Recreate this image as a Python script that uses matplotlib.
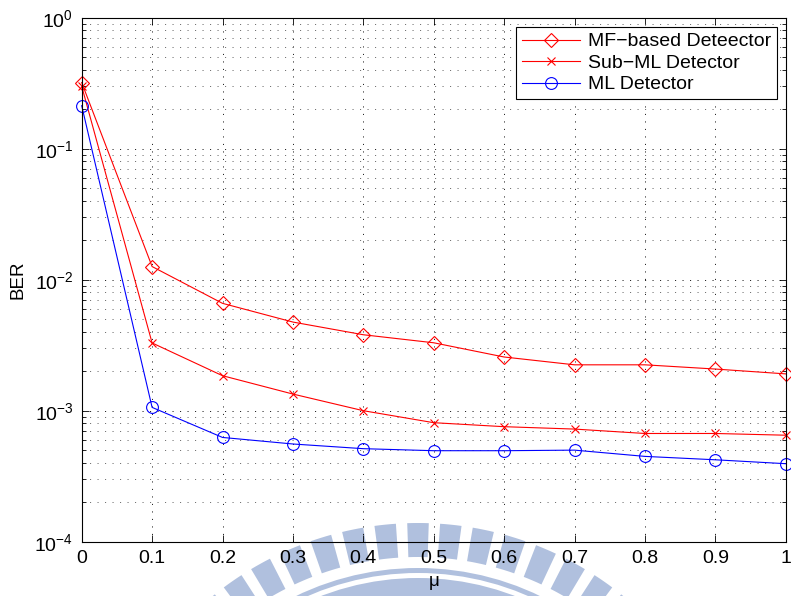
import numpy as np
import matplotlib
matplotlib.use("Agg")
import matplotlib.pyplot as plt
from matplotlib.patches import Wedge
from matplotlib.transforms import IdentityTransform
from matplotlib.ticker import FixedLocator, LogLocator, NullFormatter, FuncFormatter

plt.rcParams['font.family'] = ['Liberation Sans', 'DejaVu Sans']
plt.rcParams['mathtext.fontset'] = 'custom'
plt.rcParams['mathtext.rm'] = 'Liberation Sans'
plt.rcParams['mathtext.it'] = 'Liberation Sans'
plt.rcParams['mathtext.bf'] = 'Liberation Sans'
plt.rcParams['lines.scale_dashes'] = False

mu = [0.0, 0.1, 0.2, 0.3, 0.4, 0.5, 0.6, 0.7, 0.8, 0.9, 1.0]
ber_mf = [0.32, 0.0126, 0.0066, 0.00475, 0.0038, 0.0033, 0.00257, 0.00224, 0.00224, 0.00208, 0.00191]
ber_subml = [0.30, 0.00329, 0.00185, 0.00134, 0.0010, 0.00081, 0.000755, 0.000724, 0.00067, 0.00067, 0.00065]
ber_ml = [0.213, 0.00106, 0.000625, 0.000557, 0.000513, 0.000495, 0.000495, 0.0005, 0.000448, 0.000422, 0.000394]
labels = ['MF\u2212based Deteector', 'Sub\u2212ML Detector', 'ML Detector']
xticks = [0, 0.1, 0.2, 0.3, 0.4, 0.5, 0.6, 0.7, 0.8, 0.9, 1]
xticklabels = ['0', '0.1', '0.2', '0.3', '0.4', '0.5', '0.6', '0.7', '0.8', '0.9', '1']

W, H = 791, 596
fig = plt.figure(figsize=(W / 100, H / 100), dpi=100, facecolor='white')

# watermark (decorative logo) in pixel coordinates, behind the axes
wm = '#b0c0de'
cx, cy = 418, H - 848
for ang in np.arange(-58, 59, 5.8):
    a = 90 - ang
    fig.patches.append(Wedge((cx, cy), 325, a - 1.9, a + 1.9, width=34,
                             transform=IdentityTransform(), facecolor=wm,
                             edgecolor='none', zorder=-5))
fig.patches.append(Wedge((cx, cy), 280, 30, 150, width=5, transform=IdentityTransform(),
                         facecolor=wm, edgecolor='none', zorder=-5))
fig.patches.append(Wedge((cx, cy), 270, 30, 150, width=60, transform=IdentityTransform(),
                         facecolor=wm, edgecolor='none', zorder=-5))

ax = fig.add_axes([81.7 / W, (H - 541.7) / H, 704 / W, 524 / H])
ax.set_facecolor('none')

ax.semilogy(mu, ber_mf, color='#ff0000', lw=0.8, marker='D', ms=7, mfc='none',
            mec='#ff0000', mew=0.8, label=labels[0], clip_on=False)
ax.semilogy(mu, ber_subml, color='#ff0000', lw=0.8, marker='x', ms=6, mew=0.8,
            label=labels[1], clip_on=False)
ax.semilogy(mu, ber_ml, color='#0000ff', lw=0.8, marker='o', ms=8.5, mfc='none',
            mec='#0000ff', mew=0.8, label=labels[2], clip_on=False)

ax.set_xlim(0, 1)
ax.set_ylim(1e-4, 1)
ax.xaxis.set_major_locator(FixedLocator(xticks))
ax.set_xticklabels(xticklabels)
ax.yaxis.set_major_locator(LogLocator(base=10, numticks=10))
ax.yaxis.set_minor_locator(LogLocator(base=10, subs=np.arange(2, 10), numticks=20))
ax.yaxis.set_minor_formatter(NullFormatter())
ax.yaxis.set_major_formatter(FuncFormatter(lambda v, p: r'$10^{%d}$' % int(round(np.log10(v)))))

ax.tick_params(which='both', direction='in', top=True, right=True, labelsize=14, width=0.6, color='k')
ax.tick_params(which='major', length=5, pad=6)
ax.tick_params(which='minor', length=3)
for s in ax.spines.values():
    s.set_linewidth(0.8)

dots = (0, (0.8, 4.6))
ax.grid(True, which='major', axis='both', color='k', lw=0.6, linestyle=dots)
ax.grid(True, which='minor', axis='y', color='0.35', lw=0.6, linestyle=dots)

ax.set_xlabel('\u03bc', fontsize=13.5, labelpad=4)
ax.set_ylabel('BER', fontsize=13.5, labelpad=6)

leg = ax.legend(loc='upper right', bbox_to_anchor=(777 / W, (H - 27) / H),
                bbox_transform=fig.transFigure, fontsize=14, frameon=True,
                fancybox=False, edgecolor='k', framealpha=1, borderpad=0.3,
                handlelength=3.0, handletextpad=0.4, labelspacing=0.2, borderaxespad=0)
leg.get_frame().set_linewidth(0.8)

fig.savefig('out.png', dpi=100, facecolor='white')
